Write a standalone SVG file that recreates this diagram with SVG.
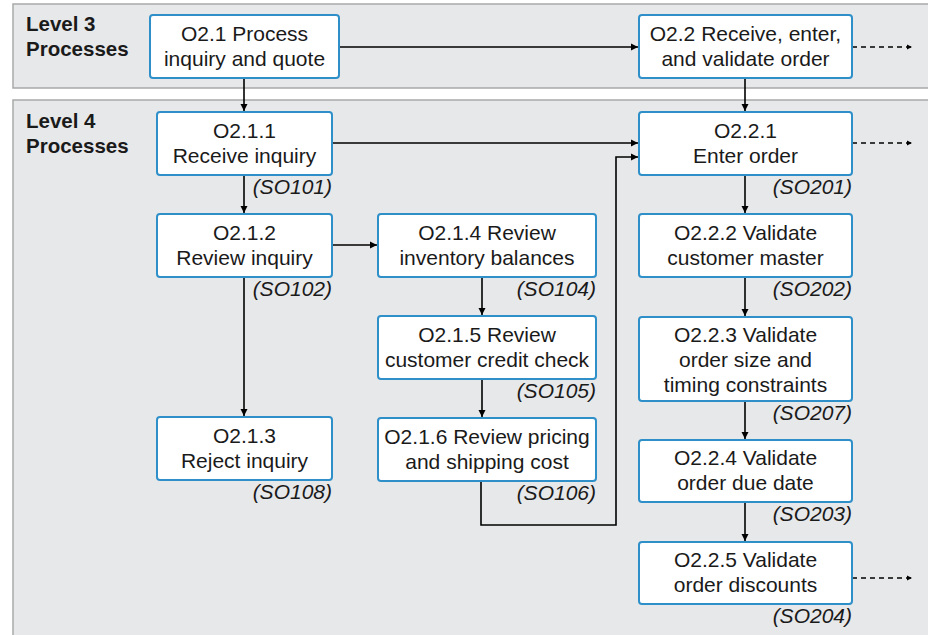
<svg xmlns="http://www.w3.org/2000/svg" width="928" height="635" viewBox="0 0 928 635">
<defs>
<marker id="ah" markerWidth="8" markerHeight="8" refX="7" refY="4" orient="auto" markerUnits="userSpaceOnUse">
<path d="M0,0.5 L7,4 L0,7.5 Z" fill="#000"/>
</marker>
<marker id="ahs" markerWidth="6" markerHeight="6" refX="5" refY="3" orient="auto" markerUnits="userSpaceOnUse">
<path d="M0,0.5 L5,3 L0,5.5 Z" fill="#000"/>
</marker>
<style>
.panel{fill:#e7e8ea;stroke:#a9a9a9;stroke-width:1.5}
.box{fill:#fff;stroke:#2f8fc9;stroke-width:2}
.t{font-family:"Liberation Sans",Arial,sans-serif;font-size:21px;fill:#1a1a1a;text-anchor:middle}
.lbl{font-family:"Liberation Sans",Arial,sans-serif;font-size:20.5px;font-weight:bold;fill:#1a1a1a}
.so{font-family:"Liberation Sans",Arial,sans-serif;font-size:21px;font-style:italic;fill:#1a1a1a;text-anchor:end}
.c{fill:none;stroke:#000;stroke-width:1.6}
.d{fill:none;stroke:#000;stroke-width:1.6;stroke-dasharray:5,4}
</style>
</defs>
<rect width="928" height="635" fill="#fff"/>
<g id="panels">
<rect class="panel" x="13" y="4" width="930" height="84"/>
<rect class="panel" x="13" y="100" width="930" height="545"/>
<text class="lbl" x="26" y="31">Level 3</text>
<text class="lbl" x="26" y="56">Processes</text>
<text class="lbl" x="26" y="128">Level 4</text>
<text class="lbl" x="26" y="153">Processes</text>
</g>
<g id="connectors">
<line class="c" x1="339" y1="47" x2="638" y2="47" marker-end="url(#ah)"/>
<line class="d" x1="852" y1="47" x2="912" y2="47" marker-end="url(#ahs)"/>
<line class="c" x1="244" y1="78" x2="244" y2="111" marker-end="url(#ah)"/>
<line class="c" x1="745" y1="78" x2="745" y2="111" marker-end="url(#ah)"/>
<line class="c" x1="332" y1="143" x2="638" y2="143" marker-end="url(#ah)"/>
<line class="d" x1="852" y1="143" x2="912" y2="143" marker-end="url(#ahs)"/>
<line class="c" x1="244" y1="175" x2="244" y2="213" marker-end="url(#ah)"/>
<line class="c" x1="332" y1="245" x2="377" y2="245" marker-end="url(#ah)"/>
<line class="c" x1="244" y1="277" x2="244" y2="416" marker-end="url(#ah)"/>
<line class="c" x1="482" y1="277" x2="482" y2="315" marker-end="url(#ah)"/>
<line class="c" x1="482" y1="379" x2="482" y2="417" marker-end="url(#ah)"/>
<polyline class="c" points="481,481 481,525 616,525 616,157 638,157" marker-end="url(#ah)"/>
<line class="c" x1="745" y1="175" x2="745" y2="213" marker-end="url(#ah)"/>
<line class="c" x1="745" y1="277" x2="745" y2="316" marker-end="url(#ah)"/>
<line class="c" x1="745" y1="401" x2="745" y2="439" marker-end="url(#ah)"/>
<line class="c" x1="745" y1="502" x2="745" y2="541" marker-end="url(#ah)"/>
<line class="d" x1="852" y1="578" x2="912" y2="578" marker-end="url(#ahs)"/>
</g>
<g id="n21"><rect class="box" x="150" y="15" width="189" height="63" rx="3"/>
<text class="t" x="244.5" y="40.5">O2.1 Process</text><text class="t" x="244.5" y="65.5">inquiry and quote</text></g>
<g id="n22"><rect class="box" x="639" y="15" width="213" height="63" rx="3"/>
<text class="t" x="745.5" y="40.5">O2.2 Receive, enter,</text><text class="t" x="745.5" y="65.5">and validate order</text></g>
<g id="n211"><rect class="box" x="157" y="112" width="175" height="63" rx="3"/>
<text class="t" x="244.5" y="137.5">O2.1.1</text><text class="t" x="244.5" y="162.5">Receive inquiry</text>
<text class="so" x="332" y="194">(SO101)</text></g>
<g id="n212"><rect class="box" x="157" y="214" width="175" height="63" rx="3"/>
<text class="t" x="244.5" y="239.5">O2.1.2</text><text class="t" x="244.5" y="264.5">Review inquiry</text>
<text class="so" x="332" y="296">(SO102)</text></g>
<g id="n213"><rect class="box" x="157" y="417" width="175" height="63" rx="3"/>
<text class="t" x="244.5" y="442.5">O2.1.3</text><text class="t" x="244.5" y="467.5">Reject inquiry</text>
<text class="so" x="332" y="499">(SO108)</text></g>
<g id="n214"><rect class="box" x="378" y="214" width="218" height="63" rx="3"/>
<text class="t" x="487" y="239.5">O2.1.4 Review</text><text class="t" x="487" y="264.5">inventory balances</text>
<text class="so" x="596" y="296">(SO104)</text></g>
<g id="n215"><rect class="box" x="378" y="316" width="218" height="63" rx="3"/>
<text class="t" x="487" y="341.5">O2.1.5 Review</text><text class="t" x="487" y="366.5">customer credit check</text>
<text class="so" x="596" y="398">(SO105)</text></g>
<g id="n216"><rect class="box" x="378" y="418" width="218" height="63" rx="3"/>
<text class="t" x="487" y="443.5">O2.1.6 Review pricing</text><text class="t" x="487" y="468.5">and shipping cost</text>
<text class="so" x="596" y="500">(SO106)</text></g>
<g id="n221"><rect class="box" x="639" y="112" width="213" height="63" rx="3"/>
<text class="t" x="745.5" y="137.5">O2.2.1</text><text class="t" x="745.5" y="162.5">Enter order</text>
<text class="so" x="852" y="194">(SO201)</text></g>
<g id="n222"><rect class="box" x="639" y="214" width="213" height="63" rx="3"/>
<text class="t" x="745.5" y="239.5">O2.2.2 Validate</text><text class="t" x="745.5" y="264.5">customer master</text>
<text class="so" x="852" y="296">(SO202)</text></g>
<g id="n223"><rect class="box" x="639" y="317" width="213" height="84" rx="3"/>
<text class="t" x="745.5" y="341.5">O2.2.3 Validate</text><text class="t" x="745.5" y="366.5">order size and</text><text class="t" x="745.5" y="391.5">timing constraints</text>
<text class="so" x="852" y="420">(SO207)</text></g>
<g id="n224"><rect class="box" x="639" y="440" width="213" height="62" rx="3"/>
<text class="t" x="745.5" y="465">O2.2.4 Validate</text><text class="t" x="745.5" y="490">order due date</text>
<text class="so" x="852" y="521">(SO203)</text></g>
<g id="n225"><rect class="box" x="639" y="542" width="213" height="62" rx="3"/>
<text class="t" x="745.5" y="567">O2.2.5 Validate</text><text class="t" x="745.5" y="592">order discounts</text>
<text class="so" x="852" y="623">(SO204)</text></g>
</svg>
